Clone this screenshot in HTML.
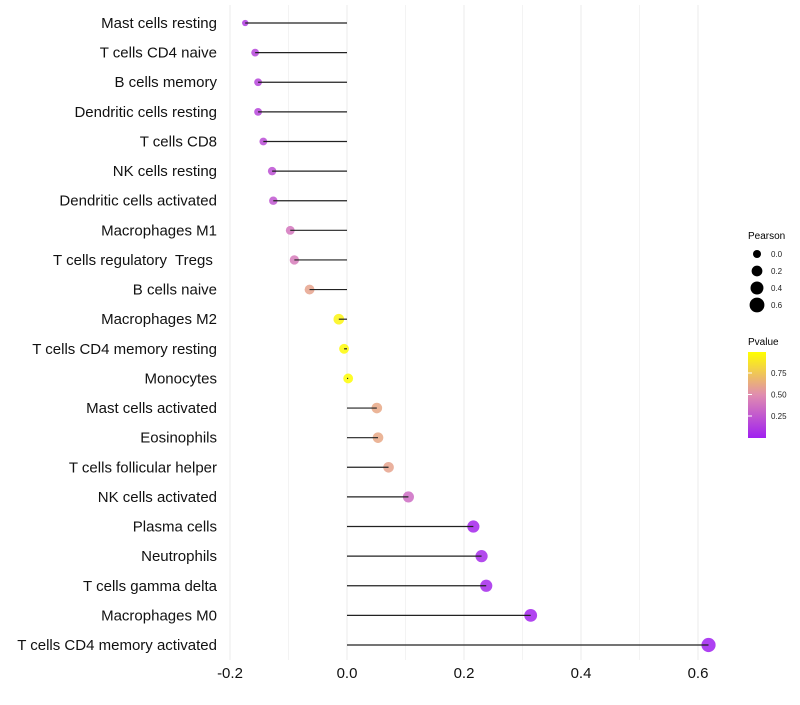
<!DOCTYPE html>
<html><head><meta charset="utf-8"><style>
body{margin:0;background:#fff;font-family:"Liberation Sans",sans-serif}
svg text{font-family:"Liberation Sans",sans-serif;white-space:pre}
</style></head><body>
<svg id="c" width="800" height="700" xmlns="http://www.w3.org/2000/svg">
<defs><linearGradient id="pg" x1="0" y1="1" x2="0" y2="0">
<stop offset="0" stop-color="#A020F0"/><stop offset="0.5" stop-color="#E08CB0"/><stop offset="1" stop-color="#FFFF00"/></linearGradient></defs>
<g id="grid"></g><g id="dots"></g><g id="marks"></g><g id="ylab"></g><g id="xlab"></g>
<g id="legend">
<text x="748" y="239" font-size="10">Pearson</text>
<text x="748" y="345" font-size="10">Pvalue</text>
<rect x="748" y="352" width="18" height="86" fill="url(#pg)"/>
</g>
</svg>
<script>
const categories=["Mast cells resting","T cells CD4 naive","B cells memory","Dendritic cells resting","T cells CD8","NK cells resting","Dendritic cells activated","Macrophages M1","T cells regulatory  Tregs ","B cells naive","Macrophages M2","T cells CD4 memory resting","Monocytes","Mast cells activated","Eosinophils","T cells follicular helper","NK cells activated","Plasma cells","Neutrophils","T cells gamma delta","Macrophages M0","T cells CD4 memory activated"];
const values=[-0.174,-0.157,-0.152,-0.152,-0.143,-0.128,-0.126,-0.097,-0.090,-0.064,-0.014,-0.005,0.002,0.051,0.053,0.071,0.105,0.216,0.230,0.238,0.314,0.618];
const pvalues=[0.12,0.17,0.17,0.17,0.2,0.22,0.25,0.4,0.42,0.6,0.95,0.98,0.99,0.62,0.62,0.6,0.35,0.03,0.05,0.04,0.02,0.001];
const sizes=[0.0,0.08,0.08,0.08,0.08,0.12,0.12,0.15,0.18,0.22,0.28,0.22,0.22,0.28,0.28,0.28,0.32,0.42,0.42,0.42,0.48,0.62];
const xTicks=[-0.2,0,0.2,0.4,0.6];
const xTickLabels=["-0.2","0.0","0.2","0.4","0.6"];
const sizeLegend=[0.0,0.2,0.4,0.6];
const colorLegend=[0.25,0.5,0.75];
const ns="http://www.w3.org/2000/svg";
const X=v=>347+v*585;
const Y=i=>23+i*(622/21);
const R=s=>Math.sqrt(10+s*65);
const PY=p=>437.5-p*86;
function col(p){const a=[160,32,240],b=[224,140,176],c=[255,255,0];let s,e,t;if(p<0.5){s=a;e=b;t=p/0.5}else{s=b;e=c;t=(p-0.5)/0.5}return `rgb(${s.map((v,k)=>Math.round(v+(e[k]-v)*t)).join(',')})`;}
function mk(tag,at,parent){const el=document.createElementNS(ns,tag);for(const k in at)el.setAttribute(k,at[k]);document.getElementById(parent).appendChild(el);return el;}
for(let v=-0.2;v<=0.65;v+=0.1){const g=mk('line',{x1:X(v),x2:X(v),y1:5,y2:660,stroke:Math.abs(Math.round(v*10))%2?'#f3f3f3':'#ebebeb','stroke-width':1},'grid');

}
xTicks.forEach((t,i)=>{const el=mk('text',{x:X(t),y:678,'font-size':15,'text-anchor':'middle',fill:'#111'},'xlab');el.textContent=xTickLabels[i];

});
categories.forEach((c,i)=>{const t=mk('text',{x:217,y:Y(i)+5,'font-size':15,'text-anchor':'end',fill:'#111'},'ylab');t.textContent=c;


const d=mk('circle',{cx:X(values[i]),cy:Y(i),r:R(sizes[i]),fill:col(pvalues[i]),'fill-opacity':0.85},'dots');


const l=mk('line',{x1:X(0),x2:X(values[i]),y1:Y(i),y2:Y(i),stroke:'#222','stroke-width':1.2},'marks');

});
sizeLegend.forEach((s,i)=>{const y=254+i*17;const c=mk('circle',{cx:757,cy:y,r:Math.sqrt(16+s*65),fill:'#000'},'legend');


const t=mk('text',{x:771,y:y+3,'font-size':8,fill:'#222'},'legend');t.textContent=s.toFixed(1);

});
colorLegend.forEach(p=>{const y=PY(p);const t=mk('text',{x:771,y:y+3,'font-size':8,fill:'#222'},'legend');t.textContent=p.toFixed(2);


const k=mk('line',{x1:748,x2:752,y1:y,y2:y,stroke:'#fff'},'legend');

});
</script>
</body></html>
